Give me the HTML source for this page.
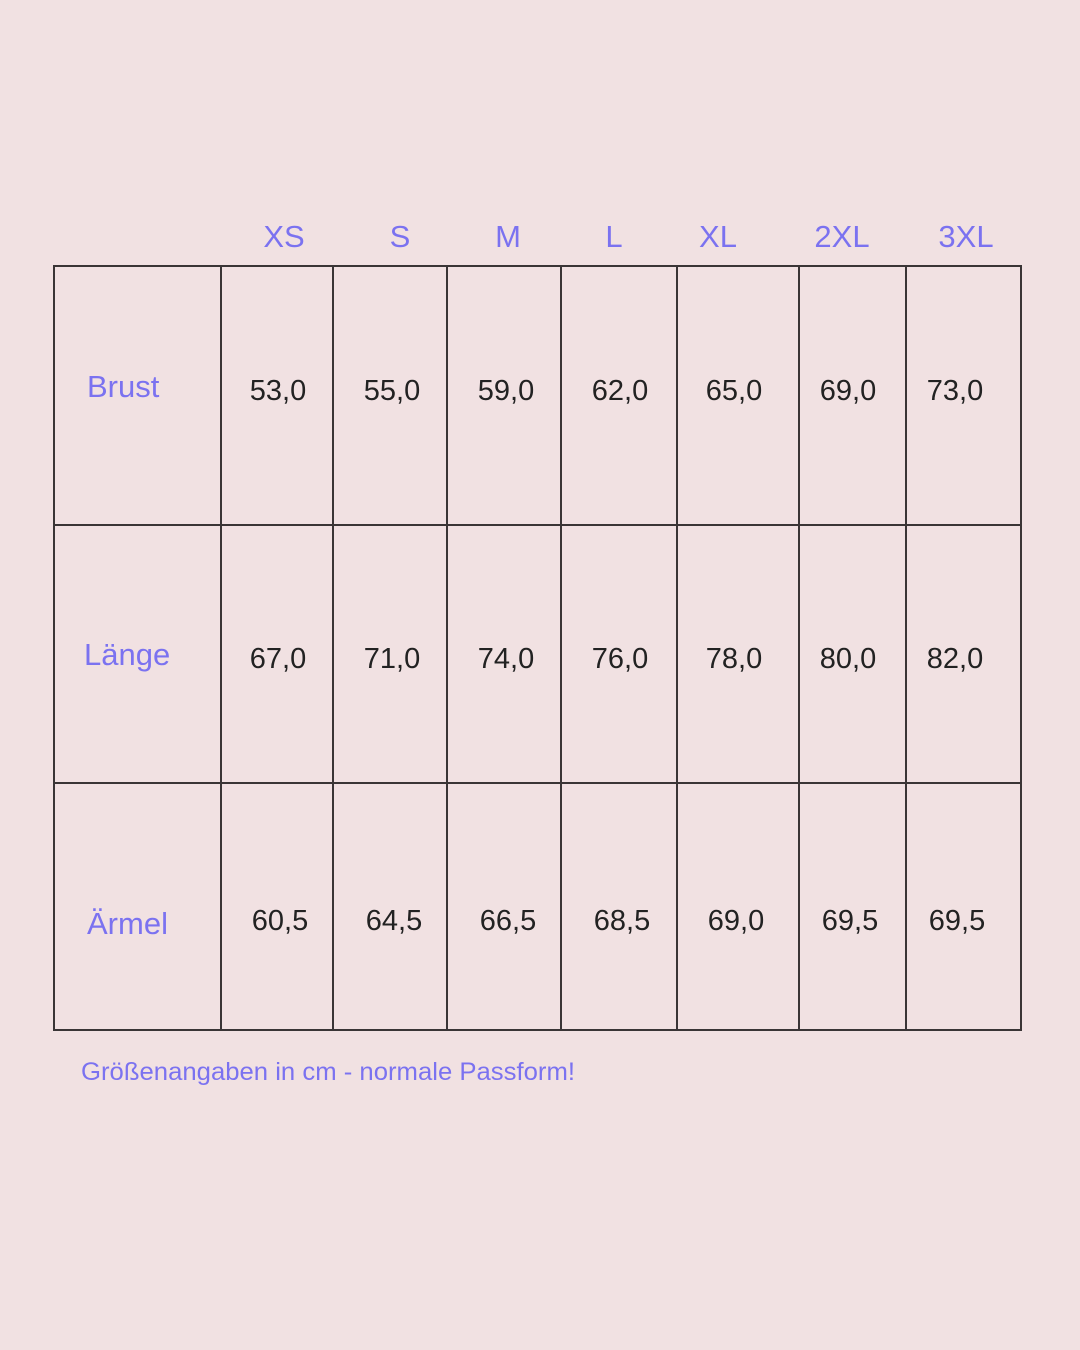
<!DOCTYPE html>
<html><head><meta charset="utf-8"><style>
html,body{margin:0;padding:0;background:#f1e1e2;}
svg{display:block}
</style></head><body>
<svg width="1080" height="1350" xmlns="http://www.w3.org/2000/svg" font-family="Liberation Sans, sans-serif">
<rect width="1080" height="1350" fill="#f1e1e2"/>
<g stroke="#3a3536" stroke-width="2" fill="none">
<rect x="54" y="266" width="967" height="764"/>
<line x1="221" y1="266" x2="221" y2="1030"/>
<line x1="333" y1="266" x2="333" y2="1030"/>
<line x1="447" y1="266" x2="447" y2="1030"/>
<line x1="561" y1="266" x2="561" y2="1030"/>
<line x1="677" y1="266" x2="677" y2="1030"/>
<line x1="799" y1="266" x2="799" y2="1030"/>
<line x1="906" y1="266" x2="906" y2="1030"/>
<line x1="54" y1="525" x2="1021" y2="525"/>
<line x1="54" y1="783" x2="1021" y2="783"/>
</g>
<g fill="#7b72f0" font-size="31" text-anchor="middle">
<text x="284" y="247">XS</text>
<text x="400" y="247">S</text>
<text x="508" y="247">M</text>
<text x="614" y="247">L</text>
<text x="718" y="247">XL</text>
<text x="842" y="247">2XL</text>
<text x="966" y="247">3XL</text>
</g>
<g fill="#7b72f0" font-size="31">
<text x="87" y="397">Brust</text>
<text x="84" y="665">Länge</text>
<text x="87" y="934">Ärmel</text>
</g>
<g fill="#222" font-size="29" text-anchor="middle">
<text x="278" y="400">53,0</text><text x="392" y="400">55,0</text><text x="506" y="400">59,0</text><text x="620" y="400">62,0</text><text x="734" y="400">65,0</text><text x="848" y="400">69,0</text><text x="955" y="400">73,0</text>
<text x="278" y="668">67,0</text><text x="392" y="668">71,0</text><text x="506" y="668">74,0</text><text x="620" y="668">76,0</text><text x="734" y="668">78,0</text><text x="848" y="668">80,0</text><text x="955" y="668">82,0</text>
<text x="280" y="930">60,5</text><text x="394" y="930">64,5</text><text x="508" y="930">66,5</text><text x="622" y="930">68,5</text><text x="736" y="930">69,0</text><text x="850" y="930">69,5</text><text x="957" y="930">69,5</text>
</g>
<text x="81" y="1080" fill="#7b72f0" font-size="25" textLength="494" lengthAdjust="spacingAndGlyphs">Größenangaben in cm - normale Passform!</text>
</svg>
</body></html>
